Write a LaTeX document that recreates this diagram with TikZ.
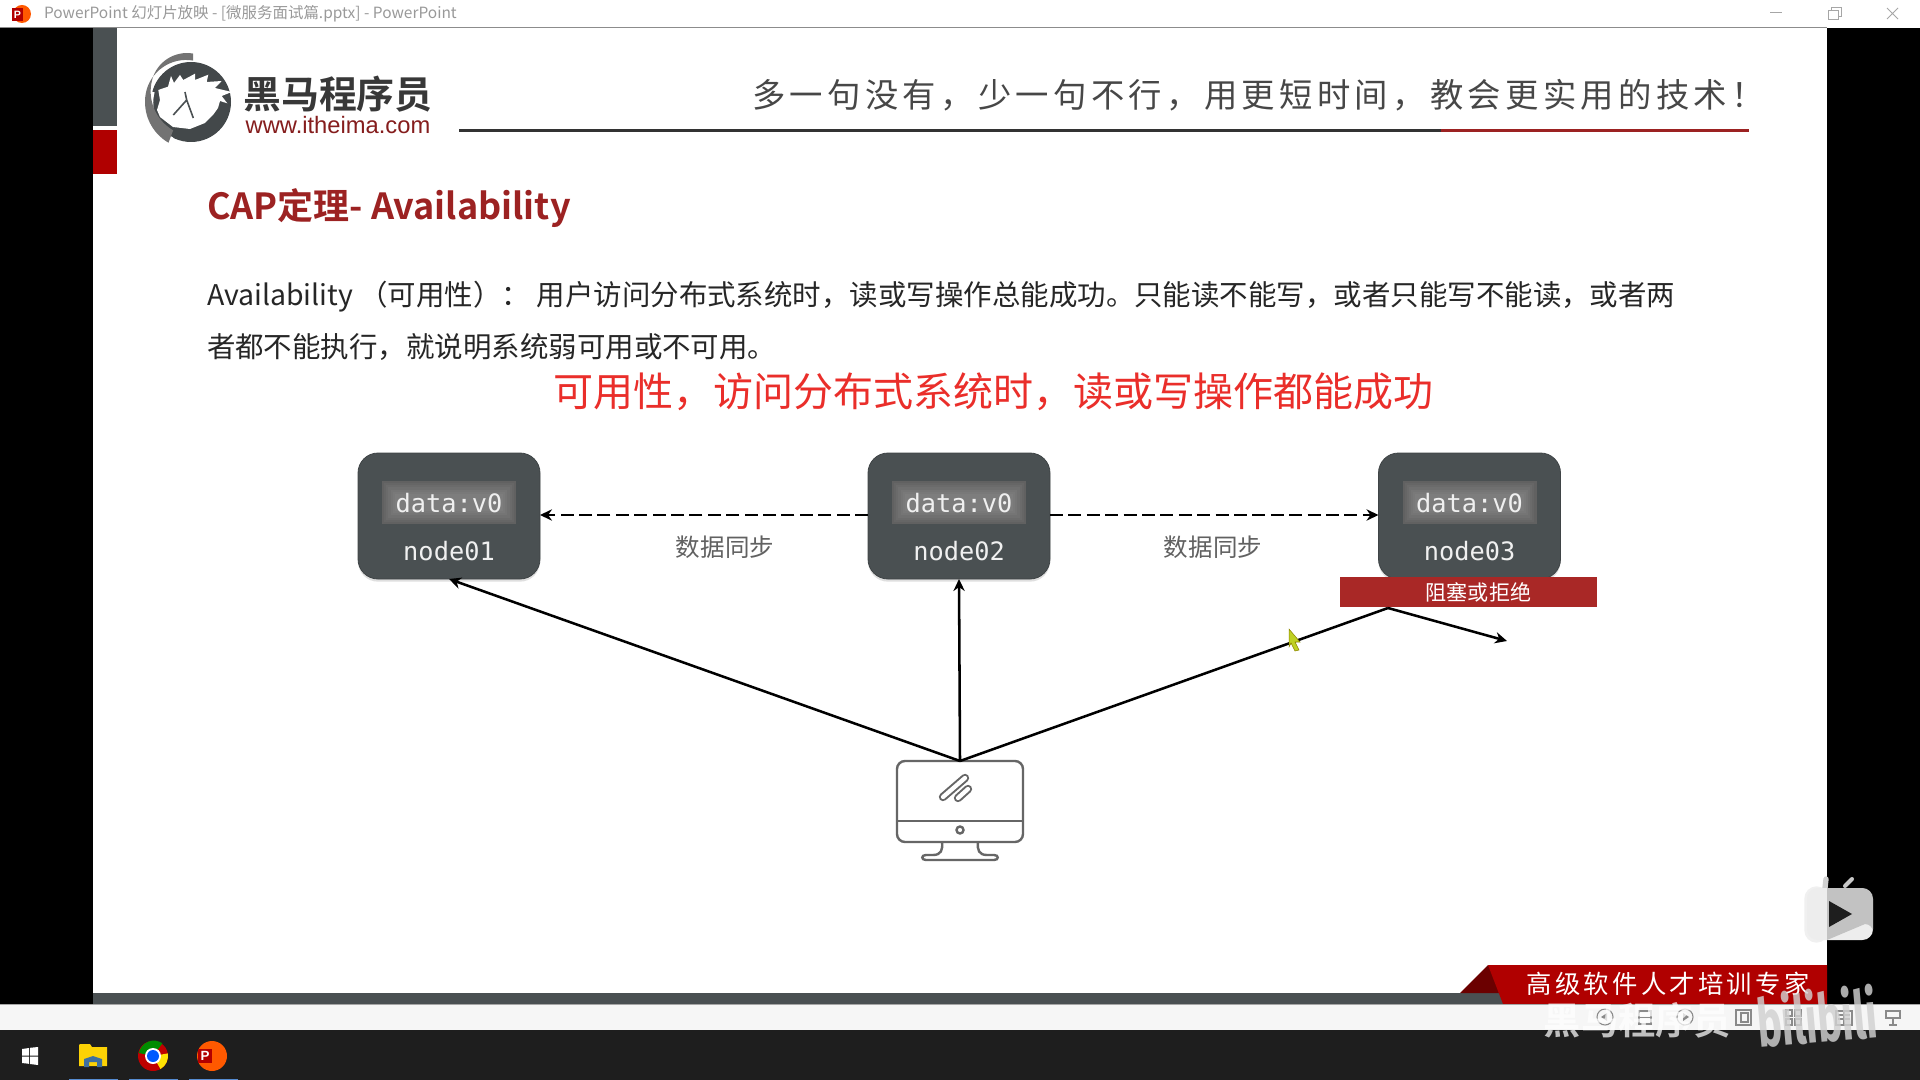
\documentclass[tikz,border=0pt]{standalone}
\usepackage{fontspec}
\usetikzlibrary{arrows.meta,shadows}
\setmainfont{Noto Sans CJK SC}
\newfontfamily\cjk{Noto Sans CJK SC}
\newfontfamily\cjkbold{Noto Sans CJK SC}[BoldFont={Noto Sans CJK SC Bold}]
\newfontfamily\slogan[LetterSpace=13]{Noto Sans CJK SC}[Scale=1]
\newfontfamily\monof{DejaVu Sans Mono}
\newfontfamily\arialf{Liberation Sans}
\newfontfamily\figa{Fira Sans}
\definecolor{nodegrey}{HTML}{4A5052}
\definecolor{titlered}{HTML}{9C2222}
\definecolor{barred}{HTML}{A92826}
\definecolor{ribbon}{HTML}{B00000}
\definecolor{ribbondark}{HTML}{6B0000}
\definecolor{sidered}{HTML}{B00000}
\definecolor{notered}{HTML}{EA2E2A}
\definecolor{pcgrey}{HTML}{666666}
\definecolor{taskbar}{HTML}{1E1E1E}
\definecolor{toolbar}{HTML}{F6F6F6}
\definecolor{toolicon}{HTML}{8A8A8A}
\tikzset{
  txt/.style={inner sep=0pt,outer sep=0pt,anchor=west},
  ctxt/.style={inner sep=0pt,outer sep=0pt,anchor=center},
  server/.style={draw=nodegrey!85!black,line width=.6pt,fill=nodegrey,rounded corners=15pt,minimum width=136.5pt,minimum height=94.5pt,inner sep=0pt,outer sep=0pt,drop shadow={shadow xshift=0pt,shadow yshift=-2pt,opacity=.25}},
  databox/.style={fill=black!64,minimum width=100.5pt,minimum height=32.25pt,inner sep=0pt,outer sep=0pt},
  monotxt/.style={ctxt,text=white!94!black,font={\monof\fontsize{19pt}{22pt}\selectfont}},
  synctxt/.style={ctxt,text=black!62,font={\cjk\fontsize{18.4pt}{22pt}\selectfont}},
  conn/.style={draw=black,line width=1.9pt,-{Stealth[length=9pt,width=8.5pt]}},
  syncline/.style={conn,dash pattern=on 9.7pt off 4.1pt},
  pcline/.style={draw=pcgrey,line width=1.8pt},
  toolline/.style={draw=toolicon,line width=.8pt},
}
\newcommand{\serverbox}[3]{%
  \node[server] (n#1) at (#2,516) {};
  \node[databox] (d#1) at (#2,502.5) {};
  \foreach \k in {0,...,6}{\fill[white,opacity=.035] ([xshift=\k*1.6pt,yshift=\k*1.6pt]d#1.south west) rectangle ([xshift=-\k*1.6pt,yshift=-\k*1.6pt]d#1.north east);}
  \node[monotxt] (t#1) at (#2,503) {data:v0};
  \node[monotxt] (l#1) at (#2,551.5) {#3};
}
\begin{document}
\begin{tikzpicture}[x=.75pt,y=-.75pt]
\useasboundingbox (0,0) rectangle (1920,1080);
% window
\fill[white] (0,0) rectangle (1920,28);
\fill[black] (0,28) rectangle (1920,1004);
\fill[white] (93,28) rectangle (1827,1004);
\draw[black!45,line width=.6pt] (0,27.5) -- (1827,27.5);
\fill[orange!70!red] (22,14) circle (9);
\fill[red!70!black] (12,8) rectangle (23,21);
\node[ctxt,text=white,font={\arialf\bfseries\fontsize{8pt}{9pt}\selectfont}] (ppicon) at (17.5,14.5) {P};
\node[txt,text=black!40,font={\cjk\fontsize{11.6pt}{14pt}\selectfont}] (wintitle) at (44,14) {PowerPoint 幻灯片放映 - [微服务面试篇.pptx] - PowerPoint};
\draw[black!35,line width=.7pt] (1770,12.5) -- (1782,12.5);
\draw[black!35,line width=.7pt] (1828,10) rectangle (1838,19);
\draw[black!35,line width=.7pt] (1831,10) -- (1831,7) -- (1841,7) -- (1841,16) -- (1838,16);
\draw[black!35,line width=.7pt] (1887,8) -- (1898,19) (1898,8) -- (1887,19);
% side marks
\fill[nodegrey] (93,28) rectangle (117,126);
\fill[sidered] (93,130) rectangle (117,174);
% logo
\fill[nodegrey!90!black] (191,102) circle (40);
\fill[white] (158.3,90) -- (168,86.7) -- (171,76) -- (174,83) -- (180,75) -- (183.3,80) -- (195,73.7) -- (195,80) -- (208.3,74.7) -- (206.7,82) -- (221.7,81) -- (215,88) -- (231.7,92) -- (221.7,96) -- (227.3,103.3) -- (220,101) -- (218,108) -- (213,115) -- (205,123) -- (190,129) -- (173,127) -- (160,117) -- (157,110) -- (160,100) -- cycle;
\draw[white,line width=2.5pt] (153,92) arc[start angle=195,end angle=120,radius=42];
\fill[black!55] (192,102) ++(120:47) arc[start angle=120,end angle=190,radius=47] arc[start angle=190,end angle=280,radius=41] -- ++(0,-7) arc[start angle=280,end angle=195,radius=36] arc[start angle=195,end angle=120,radius=45] -- cycle;
\draw[nodegrey,line width=1.2pt,line join=round] (185,92) -- (186.7,100) -- (193.3,118) (186.7,100) -- (173.3,115);
% logo text
\node[ctxt,text=black!78,font={\cjkbold\bfseries\fontsize{28.4pt}{30pt}\selectfont}] (brand) at (338,94) {黑马程序员};
\node[ctxt,text=titlered!85!black,font={\arialf\fontsize{17.8pt}{20pt}\selectfont}] (url) at (338,125) {www.itheima.com};
% slogan
\node[txt,text=black!72,font={\slogan\fontsize{25pt}{28pt}\selectfont}] (slogan) at (752,95) {多一句没有，少一句不行，用更短时间，教会更实用的技术！};
\draw[black!80,line width=2.2pt] (459,130.5) -- (1441,130.5);
\draw[titlered,line width=2.6pt] (1441,130.5) -- (1749,130.5);
% title and body
\node[txt,text=titlered,font={\cjkbold\bfseries\fontsize{27pt}{30pt}\selectfont}] (title) at (207,208.5) {CAP定理- Availability};
\node[txt,text=black!85,font={\cjk\fontsize{21.35pt}{25pt}\selectfont}] (body1) at (207,296.5) {Availability （可用性）： 用户访问分布式系统时，读或写操作总能成功。只能读不能写，或者只能写不能读，或者两};
\node[txt,text=black!85,font={\cjk\fontsize{21.35pt}{25pt}\selectfont}] (body2) at (207,347) {者都不能执行，就说明系统弱可用或不可用。};
\node[txt,text=notered,font={\cjk\fontsize{30pt}{34pt}\selectfont}] (note) at (553,392) {可用性，访问分布式系统时，读或写操作都能成功};
% servers
\serverbox{1}{449}{node01}
\serverbox{2}{959}{node02}
\serverbox{3}{1469.5}{node03}
% sync
\draw[syncline] (n2.west |- 0,515) -- (n1.east |- 0,515);
\draw[syncline] (n2.east |- 0,515) -- (n3.west |- 0,515);
\node[synctxt] (s1) at (725,547) {数据同步};
\node[synctxt] (s2) at (1213,547) {数据同步};
% barrier
\node[fill=barred,minimum width=193pt,minimum height=22.5pt,inner sep=0pt,outer sep=0pt] (bar) at (1468.75,592) {};
\node[ctxt,text=white,font={\cjk\fontsize{15.8pt}{18pt}\selectfont}] (bartxt) at (1478.5,592) {阻塞或拒绝};
% computer
\node[pcline,rounded corners=6pt,minimum width=94.5pt,minimum height=60.75pt,inner sep=0pt,outer sep=0pt,draw] (pc) at (960,801.5) {};
\draw[pcline] (pc.west |- 0,821) -- (pc.east |- 0,821);
\draw[pcline] (960,830) circle (3.5);
\draw[pcgrey,line width=6.2pt,line cap=round] (943,797) -- (965,778);
\draw[white,line width=3.2pt,line cap=round] (943,797) -- (965,778);
\draw[pcgrey,line width=6.2pt,line cap=round] (958,798) -- (968,789);
\draw[white,line width=3.2pt,line cap=round] (958,798) -- (968,789);
\draw[pcline] (942,842) .. controls (943,850) and (941,855) .. (933,855) -- (926,855) .. controls (921,855) and (921,860) .. (926,860) -- (994,860) .. controls (999,860) and (999,855) .. (994,855) -- (987,855) .. controls (979,855) and (977,850) .. (978,842);
% connectors
\coordinate (join) at (1388,608);
\coordinate (tip) at (1507,641);
\draw[conn] (pc.north) -- (n1.south);
\draw[conn] (pc.north) -- (n2.south);
\draw[draw=black,line width=1.9pt] (pc.north) -- (join);
\draw[conn] (join) -- (tip);
% cursor
\fill[yellow!80!green!90!black,draw=olive,line width=.4pt] (1289,629) -- (1300,642) -- (1295,642) -- (1299,650) -- (1295,651) -- (1291,643) -- (1289,647) -- cycle;
% bottom
\fill[nodegrey] (93,993) rectangle (1510,1004);
\fill[ribbondark] (1460,993) -- (1488,965) -- (1510,993) -- cycle;
\fill[ribbon] (1488,965) -- (1827,965) -- (1827,1004) -- (1503,1004) -- cycle;
\fill[toolbar] (0,1004) rectangle (1920,1030);
\draw[black!35,line width=.5pt] (0,1004) -- (1920,1004);
\fill[taskbar] (0,1030) rectangle (1920,1080);
\node[ctxt,text=white,font={\slogan\fontsize{19pt}{22pt}\selectfont}] (ribbontxt) at (1668,984) {高级软件人才培训专家};
% toolbar icons
\draw[toolline] (1605,1017) circle (8);
\fill[toolicon] (1601,1017) -- (1607,1013) -- (1607,1021) -- cycle;
\draw[toolline] (1639,1011) rectangle (1651,1024);
\draw[toolline] (1639,1017.5) -- (1651,1017.5);
\draw[toolline] (1685,1017) circle (8);
\fill[toolicon] (1689,1017) -- (1683,1013) -- (1683,1021) -- cycle;
\draw[toolline] (1736,1010) rectangle (1751,1025);
\draw[toolline] (1741,1013) rectangle (1748,1022);
\draw[toolline] (1786,1010) rectangle (1792,1016) (1795,1010) rectangle (1801,1016) (1786,1019) rectangle (1792,1025) (1795,1019) rectangle (1801,1025);
\draw[toolline] (1836,1011) rectangle (1852,1025);
\draw[toolline] (1844,1011) -- (1844,1025) (1838,1015) -- (1850,1015) (1838,1019) -- (1850,1019);
\draw[toolline] (1886,1011) rectangle (1900,1018);
\draw[toolline] (1893,1018) -- (1893,1025) (1889,1025) -- (1897,1025);
% task bar icons
\fill[white] (22,1049) -- (29,1048) -- (29,1055.5) -- (22,1055.5) -- cycle (30,1047.8) -- (38,1047) -- (38,1055.5) -- (30,1055.5) -- cycle (22,1056.5) -- (29,1056.5) -- (29,1063.8) -- (22,1063) -- cycle (30,1056.5) -- (38,1056.5) -- (38,1065) -- (30,1064) -- cycle;
\fill[yellow!70!orange] (79,1045) -- (79,1066) -- (107,1066) -- (107,1047) -- (92,1047) -- (90,1044) -- (80,1044) -- cycle;
\fill[cyan!60!blue!70!black] (84,1067) -- (84,1059) -- (93,1056) -- (102,1059) -- (102,1067) -- (97,1067) -- (97,1062) -- (89,1062) -- (89,1067) -- cycle;
\fill[red!75!black] (153,1056) circle (15);
\fill[green!55!black] (153,1056) -- (139,1053) arc[start angle=190,end angle=305,radius=15] -- cycle;
\fill[yellow!85!orange] (153,1056) -- (160.5,1069) arc[start angle=60,end angle=-10,radius=15] -- cycle;
\fill[white] (153,1056) circle (8);
\fill[blue!65!cyan] (153,1056) circle (6);
\fill[orange!70!red] (212,1056) circle (15);
\fill[red!70!black] (198,1049) rectangle (212,1063);
\node[ctxt,text=white,font={\arialf\bfseries\fontsize{10pt}{11pt}\selectfont}] (pptask) at (205,1056) {P};
\draw[cyan!50!blue!70,line width=1pt] (69,1079.5) -- (118,1079.5) (129,1079.5) -- (178,1079.5) (189,1079.5) -- (238,1079.5);
% bilibili tv icon
\draw[black!18,line width=4pt,line cap=round] (1825,888) -- (1826,879);
\draw[black!6,line width=2.5pt,rounded corners=8pt] (1806,888) rectangle (1827,941);
\fill[white!93!black,rounded corners=8pt] (1807,888) rectangle (1873,940);
\fill[black,opacity=.18,rounded corners=0pt] (1827,888) -- (1865,888) arc[start angle=90,end angle=0,radius=8] -- (1873,932) arc[start angle=0,end angle=-90,radius=8] -- (1827,940) -- cycle;
\draw[black!22,line width=3pt,line cap=round] (1845,886) -- (1852,879);
\fill[taskbar] (1829,901) -- (1852,914) -- (1829,927) -- cycle;
% watermark
\node[ctxt,text=white,text opacity=.72,font={\cjkbold\bfseries\fontsize{28pt}{32pt}\selectfont}] (wm) at (1637,1020) {黑马程序员};
\node[ctxt,text=black!18,text opacity=.82,rotate=5,xscale=.62,font={\figa\bfseries\fontsize{50pt}{52pt}\selectfont}] (bili) at (1817,1016) {bilibili};
\end{tikzpicture}
\end{document}
